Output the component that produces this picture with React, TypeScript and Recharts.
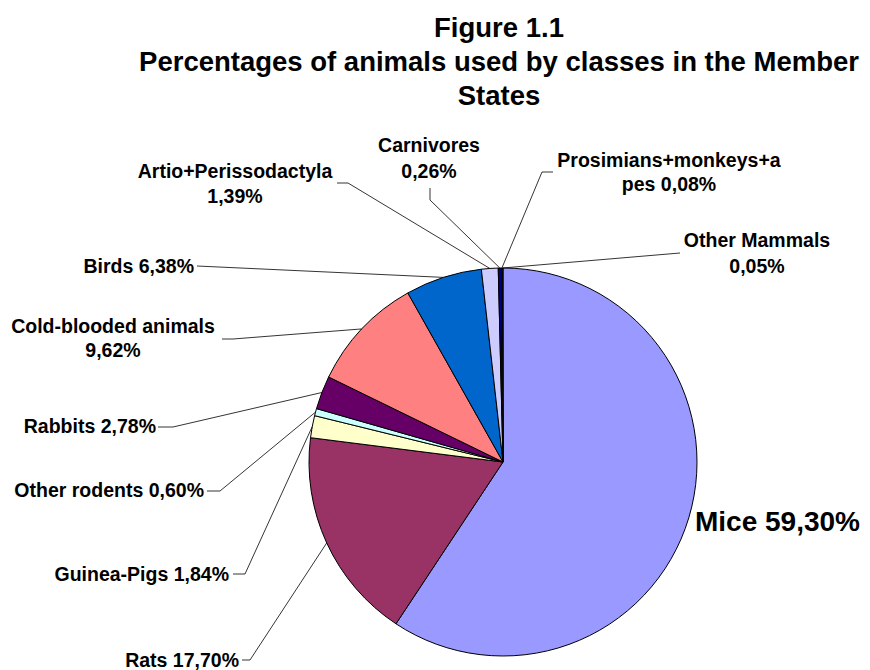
import React from "react";
import { PieChart, Pie, Cell } from "recharts";

// chart data
const CATEGORIES = [
  "Mice",
  "Rats",
  "Guinea-Pigs",
  "Other rodents",
  "Rabbits",
  "Cold-blooded animals",
  "Birds",
  "Artio+Perissodactyla",
  "Carnivores",
  "Prosimians+monkeys+apes",
  "Other Mammals",
];
const PERCENTAGES = [59.3, 17.7, 1.84, 0.6, 2.78, 9.62, 6.38, 1.39, 0.26, 0.08, 0.05];
const TITLE_LINES = [
  "Figure 1.1",
  "Percentages of animals used by classes in the Member",
  "States",
];

const COLORS = [
  "#9999FF", "#993366", "#FFFFCC", "#CCFFFF", "#660066", "#FF8080",
  "#0066CC", "#CCCCFF", "#000080", "#FF00FF", "#FFFF00",
];

const FONT = "'Liberation Sans', Arial, sans-serif";

interface LabelSpot {
  x: number;
  y: number;
  anchor: "start" | "middle" | "end";
  size: number;
  breakAt?: number;
  gap?: number;
  from?: [number, number];
  elbow?: [number, number];
}

// where Excel had the data labels dragged to (same order as CATEGORIES)
const LABEL_SPOTS: LabelSpot[] = [
  { x: 695, y: 531, anchor: "start", size: 28 },
  { x: 239, y: 667, anchor: "end", size: 19.5, from: [242, 660], elbow: [250, 660] },
  { x: 229, y: 581, anchor: "end", size: 19.5, from: [233, 574], elbow: [245, 574] },
  { x: 204, y: 497, anchor: "end", size: 19.5, from: [207, 491], elbow: [220, 491] },
  { x: 156, y: 433, anchor: "end", size: 19.5, from: [158, 427], elbow: [173, 427] },
  { x: 113, y: 333, anchor: "middle", size: 19.5, breakAt: 20, gap: 24, from: [222, 339], elbow: [233, 339] },
  { x: 194, y: 273, anchor: "end", size: 19.5, from: [197, 266] },
  { x: 235, y: 178, anchor: "middle", size: 19.5, breakAt: 20, gap: 25, from: [337, 183], elbow: [348, 183] },
  { x: 429, y: 152, anchor: "middle", size: 19.5, breakAt: 10, gap: 26, from: [430, 188], elbow: [430, 200] },
  { x: 669, y: 167, anchor: "middle", size: 19.5, breakAt: 20, gap: 24, from: [553, 172], elbow: [542, 172] },
  { x: 757, y: 247, anchor: "middle", size: 19.5, breakAt: 13, gap: 26, from: [680, 253] },
];

const data = CATEGORIES.map((name, i) => ({ name, value: PERCENTAGES[i] }));

const RAD = Math.PI / 180;

const renderLabel = (props: any) => {
  const { cx, cy, midAngle, outerRadius, index, name, value } = props;
  const spot = LABEL_SPOTS[index];
  if (!spot) return null;
  const full = `${name} ${Number(value).toFixed(2).replace(".", ",")}%`;
  const lines = spot.breakAt
    ? [full.slice(0, spot.breakAt).trim(), full.slice(spot.breakAt).trim()]
    : [full];

  const px = cx + outerRadius * Math.cos(-midAngle * RAD);
  const py = cy + outerRadius * Math.sin(-midAngle * RAD);
  let points = "";
  if (spot.from) {
    const pts = [spot.from];
    if (spot.elbow) pts.push(spot.elbow);
    pts.push([px, py]);
    points = pts.map((p) => `${p[0]},${p[1]}`).join(" ");
  }

  return (
    <g key={`lbl-${index}`}>
      {points && <polyline points={points} fill="none" stroke="#000" strokeWidth={0.8} />}
      <text
        x={spot.x}
        y={spot.y}
        textAnchor={spot.anchor}
        fontFamily={FONT}
        fontWeight="bold"
        fontSize={spot.size}
        fill="#000"
      >
        {lines.map((ln, i) => (
          <tspan key={i} x={spot.x} dy={i === 0 ? 0 : spot.gap}>
            {ln}
          </tspan>
        ))}
      </text>
    </g>
  );
};

const App: React.FC = () => {
  return (
    <div style={{ position: "absolute", left: 0, top: 0, width: 870, height: 670, background: "#fff" }}>
      <PieChart width={870} height={670}>
        <Pie
          data={data}
          dataKey="value"
          nameKey="name"
          cx={498}
          cy={457}
          outerRadius={194}
          startAngle={90}
          endAngle={-270}
          stroke="#000"
          strokeWidth={1}
          label={renderLabel}
          labelLine={false}
          isAnimationActive={false}
        >
          {data.map((_, index) => (
            <Cell key={`cell-${index}`} fill={COLORS[index % COLORS.length]} />
          ))}
        </Pie>
      </PieChart>
      <svg
        width={870}
        height={120}
        style={{ position: "absolute", left: 0, top: 0, pointerEvents: "none" }}
      >
        {TITLE_LINES.map((t, i) => (
          <text
            key={t}
            x={499}
            y={37 + i * 34}
            textAnchor="middle"
            fontFamily={FONT}
            fontWeight="bold"
            fontSize={27.5}
            fill="#000"
          >
            {t}
          </text>
        ))}
      </svg>
    </div>
  );
};

export default App;
